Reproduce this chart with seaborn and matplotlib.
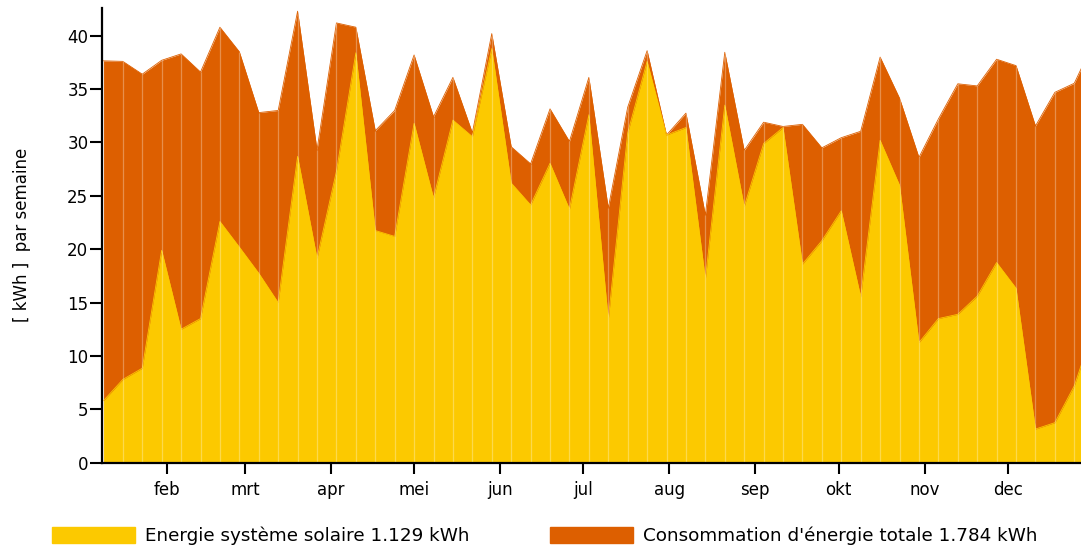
import pandas as pd
import numpy as np
import matplotlib
matplotlib.use('Agg')
import matplotlib.pyplot as plt
from matplotlib.patches import Patch
import seaborn as sns

sns.set_theme(style='white')
plt.rcParams['font.family'] = ['DejaVu Sans']
plt.rcParams.update({'text.color': 'black', 'axes.labelcolor': 'black',
                     'xtick.color': 'black', 'ytick.color': 'black'})

# weekly values (kWh)
weeks = pd.date_range('2023-01-09', periods=52, freq='7D')
solar = [5.8, 7.8, 8.85, 19.9, 12.5, 13.5, 22.6, 20.2, 17.75, 15.0,
         28.7, 19.15, 27.3, 38.4, 21.75, 21.2, 31.8, 24.8, 32.1, 30.55,
         38.8, 26.2, 24.15, 28.05, 23.75, 32.6, 13.4, 30.9, 37.6, 30.7,
         31.4, 17.2, 33.5, 24.0, 29.9, 31.4, 18.6, 20.8, 23.6, 15.55,
         30.2, 26.0, 11.25, 13.5, 13.9, 15.6, 18.75, 16.35, 3.15, 3.75,
         7.2, 12.6]
total = [37.65, 37.6, 36.4, 37.7, 38.3, 36.6, 40.8, 38.5, 32.8, 33.0,
         42.3, 29.3, 41.2, 40.8, 31.1, 33.0, 38.2, 32.4, 36.1, 30.9,
         40.2, 29.6, 28.0, 33.15, 30.1, 36.1, 23.85, 33.3, 38.6, 30.7,
         32.75, 23.2, 38.45, 29.25, 31.9, 31.5, 31.7, 29.5, 30.45, 31.05,
         38.0, 34.15, 28.6, 32.2, 35.5, 35.3, 37.8, 37.2, 31.55, 34.7,
         35.55, 39.4]
month_labels = ['feb', 'mrt', 'apr', 'mei', 'jun', 'jul', 'aug', 'sep', 'okt', 'nov', 'dec']
solar_label = 'Energie système solaire 1.129 kWh'
total_label = "Consommation d'énergie totale 1.784 kWh"

df = pd.DataFrame({'week': weeks, 'solar': solar, 'total': total})

c_solar = '#FCC900'
c_total = '#DD5F00'

fig = plt.figure(figsize=(10.81, 5.48), dpi=100)
ax = fig.add_axes([0.0946, 0.1557, 0.9054, 0.8297])

ax.fill_between(df['week'], 0, df['total'], color=c_total, lw=0)
ax.fill_between(df['week'], 0, df['solar'], color=c_solar, lw=0)
sns.lineplot(data=df, x='week', y='total', color=c_total, lw=0.6, ax=ax)
sns.lineplot(data=df, x='week', y='solar', color=c_solar, lw=0.6, ax=ax)
ax.vlines(df['week'], 0, df['total'], color='white', alpha=0.3, lw=0.9)

ax.set_xlim(pd.Timestamp('2023-01-08 14:00'), pd.Timestamp('2023-12-27 10:00'))
ax.set_ylim(0, 42.6)

months = pd.date_range('2023-02-01', periods=11, freq='MS')
ax.set_xticks(months)
ax.set_xticklabels(month_labels)
ax.set_yticks(range(0, 41, 5))

ax.tick_params(axis='x', direction='out', length=8, width=1.5,
               labelsize=12, pad=5, bottom=True)
ax.tick_params(axis='y', direction='out', length=9, width=1.5,
               labelsize=12, pad=1, left=True)

sns.despine(ax=ax)
for s in ['left', 'bottom']:
    ax.spines[s].set_color('black')
    ax.spines[s].set_linewidth(1.6)

ax.set_xlabel('')
ax.set_ylabel('[ kWh ]  par semaine', fontsize=12, labelpad=26)

handles = [Patch(color=c_solar, label=solar_label), Patch(color=c_total, label=total_label)]
fig.legend(handles=handles, loc='center', bbox_to_anchor=(0.504, 0.022), ncol=2,
           frameon=False, fontsize=13.2, handlelength=4.5, handleheight=1.0,
           handletextpad=0.55, columnspacing=4.4)

fig.savefig('out.png', dpi=100)
